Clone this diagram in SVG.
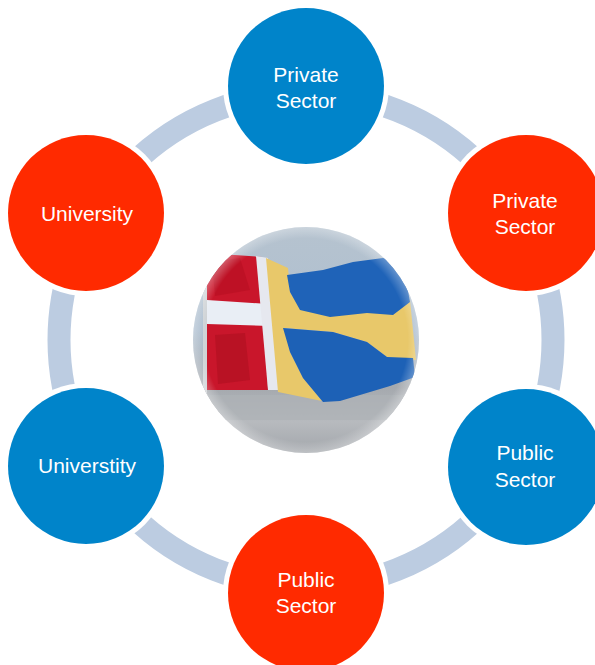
<svg xmlns="http://www.w3.org/2000/svg" width="595" height="665" viewBox="0 0 595 665">
<style>
.bg{fill:#ffffff}
.gap{fill:#ffffff}
.blue{fill:#0084CA}
.red{fill:#FF2A00}
.lbl{font-family:"Liberation Sans",Arial,sans-serif;font-size:21px;fill:#ffffff;text-anchor:middle}
</style>
<defs>
<clipPath id="flagClip"><circle cx="306" cy="340" r="113"/></clipPath>
<linearGradient id="sky" x1="0" y1="0" x2="0" y2="1">
<stop offset="0" stop-color="#b6c3cf"/>
<stop offset="0.45" stop-color="#aebfd0"/>
<stop offset="0.7" stop-color="#a5a9ae"/>
<stop offset="0.85" stop-color="#b7babe"/>
<stop offset="1" stop-color="#a0a4a9"/>
</linearGradient>
<radialGradient id="edge" cx="0.5" cy="0.5" r="0.5">
<stop offset="0.9" stop-color="#ffffff" stop-opacity="0"/>
<stop offset="1" stop-color="#ffffff" stop-opacity="0.3"/>
</radialGradient>
</defs>
<rect class="bg" x="0" y="0" width="595" height="665"/>
<g id="connectors">
<circle cx="306" cy="340" r="247" fill="none" stroke="#BCCCE1" stroke-width="23"/>
</g>
<g id="center-flag">
<g clip-path="url(#flagClip)">
<rect x="190" y="225" width="232" height="232" fill="url(#sky)"/>
<rect x="190" y="395" width="232" height="25" fill="#aeb2b7" opacity="0.7"/>
<line x1="205" y1="262" x2="205" y2="400" stroke="#cfd3d6" stroke-width="4"/>
<polygon points="207,253 262,257 268,390 207,390" fill="#c9162b"/>
<polygon points="207,300 268,304 270,326 207,324" fill="#e9eef5"/>
<polygon points="256,256 268,258 280,390 268,390" fill="#e6e8ef"/>
<polygon points="266,258 288,268 290,292 300,308 330,315 367,311 393,313 410,300 416,360 387,357 367,342 333,332 285,328 290,352 303,378 322,401 278,392" fill="#e8c86a"/>
<polygon points="287,275 323,270 353,262 383,258 403,262 410,302 393,315 367,313 330,317 300,310 290,292" fill="#1f63b8"/>
<polygon points="283,328 333,332 367,342 387,357 413,358 415,377 390,386 340,401 323,402 303,378 290,352" fill="#1d61b6"/>
<polygon points="212,262 240,258 250,290 215,296" fill="#b80f22" opacity="0.6"/>
<polygon points="215,335 245,333 250,380 218,384" fill="#a90d1e" opacity="0.5"/>
</g>
<circle cx="306" cy="340" r="113" fill="url(#edge)"/>
</g>
<g id="node-top">
<circle class="gap" cx="306" cy="86" r="83"/>
<circle class="blue" cx="306" cy="86" r="78"/>
<text class="lbl" x="306" y="82">Private</text>
<text class="lbl" x="306" y="108">Sector</text>
</g>
<g id="node-upper-right">
<circle class="gap" cx="526" cy="213" r="83"/>
<circle class="red" cx="526" cy="213" r="78"/>
<text class="lbl" x="525" y="208">Private</text>
<text class="lbl" x="525" y="234">Sector</text>
</g>
<g id="node-lower-right">
<circle class="gap" cx="526" cy="467" r="83"/>
<circle class="blue" cx="526" cy="467" r="78"/>
<text class="lbl" x="525" y="460">Public</text>
<text class="lbl" x="525" y="487">Sector</text>
</g>
<g id="node-bottom">
<circle class="gap" cx="306" cy="593" r="83"/>
<circle class="red" cx="306" cy="593" r="78"/>
<text class="lbl" x="306" y="587">Public</text>
<text class="lbl" x="306" y="613">Sector</text>
</g>
<g id="node-lower-left">
<circle class="gap" cx="86" cy="466" r="83"/>
<circle class="blue" cx="86" cy="466" r="78"/>
<text class="lbl" x="87" y="473">Universtity</text>
</g>
<g id="node-upper-left">
<circle class="gap" cx="86" cy="213" r="83"/>
<circle class="red" cx="86" cy="213" r="78"/>
<text class="lbl" x="87" y="221">University</text>
</g>
</svg>
